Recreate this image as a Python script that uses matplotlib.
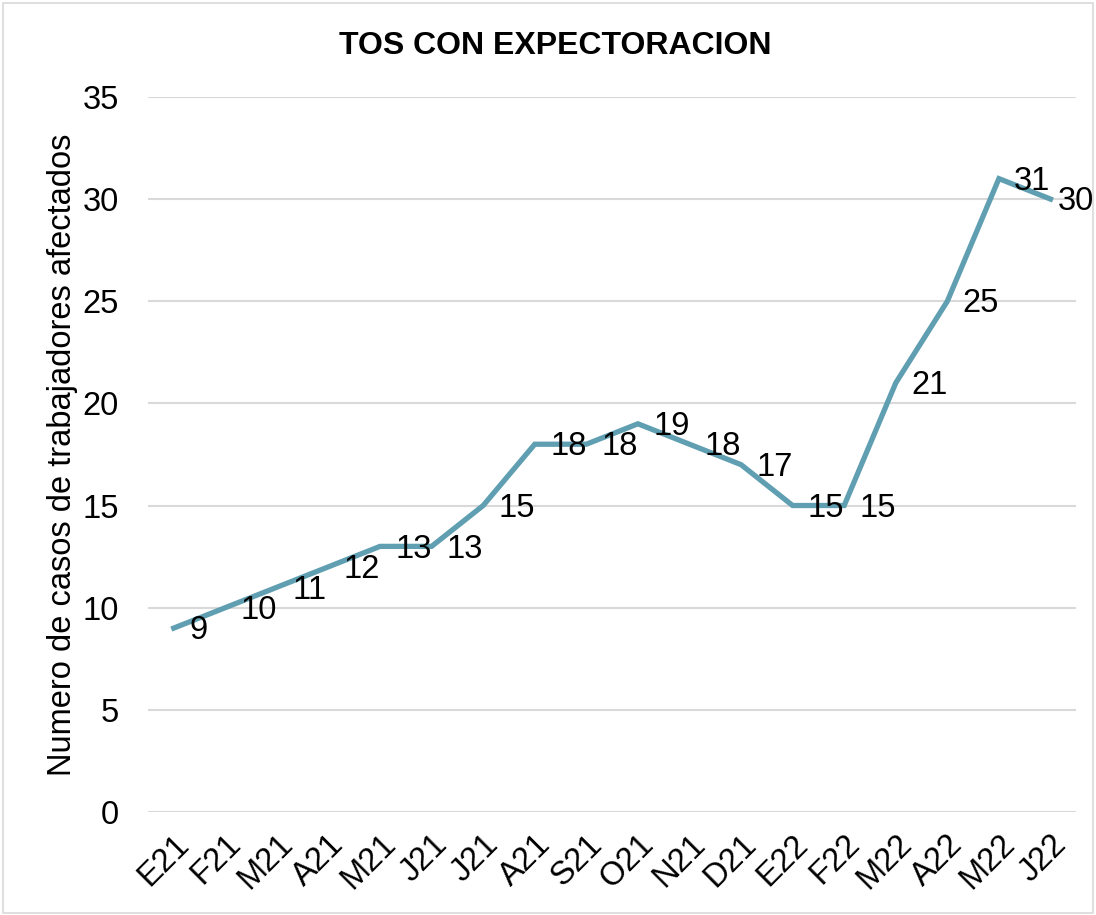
import matplotlib
matplotlib.use("Agg")
import matplotlib.pyplot as plt
from matplotlib.patches import Rectangle

plt.rcParams['font.family'] = ['Liberation Sans', 'DejaVu Sans']

# datos del grafico
meses = ['E21', 'F21', 'M21', 'A21', 'M21', 'J21', 'J21', 'A21', 'S21', 'O21',
         'N21', 'D21', 'E22', 'F22', 'M22', 'A22', 'M22', 'J22']
casos = [9, 10, 11, 12, 13, 13, 15, 18, 18, 19, 18, 17, 15, 15, 21, 25, 31, 30]

color_linea = '#5F9FB1'
color_grid = '#D9D9D9'
fs = 23.5

fig = plt.figure(figsize=(10.96, 9.15), dpi=100)
ax = fig.add_axes([0.135, 0.1126, 0.847, 0.7815])

x = list(range(len(meses)))
ax.plot(x, casos, color=color_linea, lw=3.8, solid_joinstyle='miter', zorder=3)

# etiquetas de datos a la derecha de cada punto
etiquetas = []
for xi, yi in zip(x, casos):
    t = ax.annotate(str(yi), (xi, yi), xytext=(11, -2), textcoords='offset points',
                    ha='left', va='center', fontsize=fs, color='black', zorder=4,
                    annotation_clip=False)
    etiquetas.append(t)

ax.set_xlim(-0.5, len(meses) - 0.5)
ax.set_ylim(0, 35)
ax.set_yticks(range(0, 36, 5))
ax.set_xticks(x)
ax.set_xticklabels(meses, rotation=45, ha='right', rotation_mode='anchor')
ax.tick_params(axis='both', length=0, labelsize=fs)
ax.tick_params(axis='y', pad=21)
ax.tick_params(axis='x', pad=12)

ax.grid(axis='y', color=color_grid, lw=1.5)
ax.set_axisbelow(True)
for s in ax.spines.values():
    s.set_visible(False)

ax.set_ylabel('Numero de casos de trabajadores afectados', fontsize=fs, labelpad=3)
fig.text(0.507, 0.95, 'TOS CON EXPECTORACION', ha='center', va='center',
         fontsize=23, fontweight='bold')

# borde del area del grafico
fig.patches.append(Rectangle((0.003, 0.002), 0.994, 0.995, transform=fig.transFigure,
                             fill=False, edgecolor=color_grid, lw=1.2))

# si una etiqueta se sale por la derecha, se mete dentro (como hace Excel)
fig.canvas.draw()
r = fig.canvas.get_renderer()
ancho = fig.bbox.width
for t in etiquetas:
    bb = t.get_window_extent(r)
    if bb.x1 > ancho - 2:
        dx = (bb.x1 - (ancho - 2)) * 72 / fig.dpi
        t.xyann = (t.xyann[0] - dx, t.xyann[1])

fig.savefig('out.png', dpi=100)
